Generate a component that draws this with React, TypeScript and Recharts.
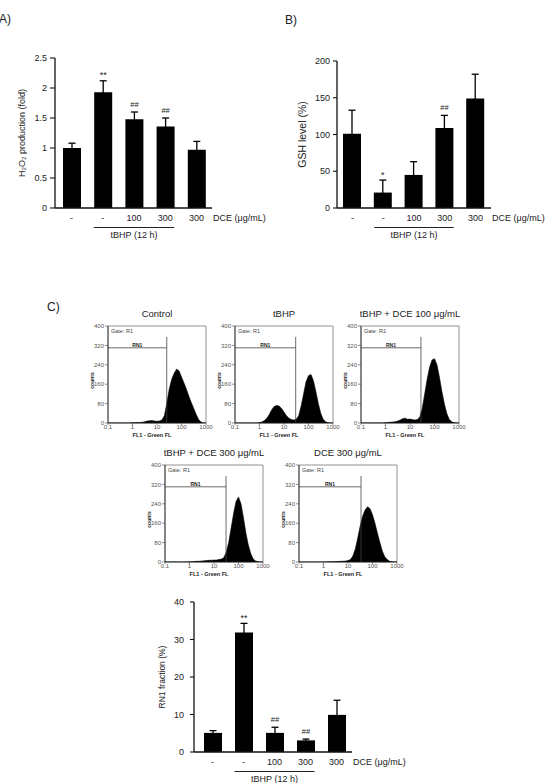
import React from "react";
import {
  BarChart,
  Bar,
  XAxis,
  YAxis,
  ErrorBar,
  LabelList,
  AreaChart,
  Area,
  ReferenceLine,
  ReferenceArea,
} from "recharts";

// treatment categories (same for the three bar panels)
const TREATMENTS = ["-", "-", "100", "300", "300"];

// A) H2O2 production (fold)
const H2O2_FOLD = [1.0, 1.93, 1.48, 1.36, 0.97];
const H2O2_ERR = [0.08, 0.19, 0.12, 0.14, 0.14];
const H2O2_SIG = ["", "**", "##", "##", ""];
const H2O2_TICKS = [0, 0.5, 1, 1.5, 2, 2.5];

// B) GSH level (%)
const GSH_LEVEL = [101, 21, 45, 109, 149];
const GSH_ERR = [32, 17, 18, 17, 33];
const GSH_SIG = ["", "*", "", "##", ""];
const GSH_TICKS = [0, 50, 100, 150, 200];

// C) RN1 fraction (%)
const RN1_FRACTION = [5.1, 31.9, 5.1, 3.1, 9.9];
const RN1_ERR = [0.6, 2.4, 1.5, 0.35, 3.9];
const RN1_SIG = ["", "**", "##", "##", ""];
const RN1_TICKS = [0, 10, 20, 30, 40];

// flow cytometry histograms (FL1 on log scale, counts)
const FL_BINS = [
  0.1, 0.126, 0.158, 0.2, 0.251, 0.316, 0.398, 0.501, 0.631, 0.794,
  1, 1.26, 1.58, 2, 2.51, 3.16, 3.98, 5.01, 6.31, 7.94,
  10, 12.6, 15.8, 20, 25.1, 31.6, 39.8, 50.1, 63.1, 79.4,
  100, 126, 158, 200, 251, 316, 398, 501, 631, 794, 1000,
];
const FL_TICKS = [0.1, 1, 10, 100, 1000];
const COUNT_TICKS = [0, 80, 160, 240, 320, 400];

const HIST_TITLES = ["Control", "tBHP", "tBHP + DCE 100 μg/mL", "tBHP + DCE 300 μg/mL", "DCE 300 μg/mL"];
const HIST_CONTROL = [
  0, 0, 0, 0, 0, 0, 0, 0, 0, 0,
  1, 1, 2, 2, 3, 5, 8, 9, 10, 8,
  7, 8, 12, 30, 80, 140, 180, 205, 222, 215,
  190, 165, 140, 110, 85, 60, 35, 14, 4, 0, 0,
];
const HIST_TBHP = [
  0, 0, 0, 0, 0, 0, 0, 0, 0, 0,
  2, 4, 10, 20, 35, 55, 68, 72, 70, 60,
  45, 30, 20, 14, 12, 15, 30, 70, 120, 170,
  195, 200, 175, 130, 80, 40, 15, 5, 1, 0, 0,
];
const HIST_TBHP_DCE100 = [
  0, 0, 0, 0, 0, 0, 0, 0, 0, 0,
  1, 2, 3, 4, 5, 8, 12, 18, 20, 15,
  16, 14, 12, 14, 25, 60, 120, 180, 230, 260,
  265, 240, 190, 130, 80, 40, 15, 5, 1, 0, 0,
];
const HIST_TBHP_DCE300 = [
  0, 0, 0, 0, 0, 0, 0, 0, 0, 0,
  1, 1, 2, 3, 3, 4, 5, 6, 7, 7,
  8, 8, 10, 12, 18, 40, 80, 140, 200, 250,
  268, 240, 185, 120, 70, 35, 12, 4, 1, 0, 0,
];
const HIST_DCE300 = [
  0, 0, 0, 0, 0, 0, 0, 0, 0, 0,
  0, 0, 1, 1, 1, 2, 2, 3, 3, 4,
  6, 10, 25, 55, 100, 150, 190, 215, 228, 220,
  195, 160, 120, 80, 45, 22, 10, 3, 1, 0, 0,
];
const HIST_COUNTS = [HIST_CONTROL, HIST_TBHP, HIST_TBHP_DCE100, HIST_TBHP_DCE300, HIST_DCE300];
// RN1 gate boundary (FL1) and marker heights (counts)
const RN1_GATE = [25, 30, 28, 31, 34];
const RN1_BAR_COUNT = 310;
const RN1_GATE_TOP = 355;

// layout of the histogram panels (page px)
const HIST_POS = [
  { left: 80, top: 322 },
  { left: 207, top: 322 },
  { left: 333, top: 322 },
  { left: 137, top: 461 },
  { left: 271, top: 461 },
];

const FONT = '"Liberation Sans", Arial, Helvetica, sans-serif';
const INK = "#222";

// rotated axis title, placed inside the axis area
const VLabel = ({ viewBox, text, dx, dy = 0, size, bold }: any) => {
  const cx = viewBox.x + dx;
  const cy = viewBox.y + viewBox.height / 2 + dy;
  return (
    <text
      x={cx}
      y={cy}
      transform={`rotate(-90 ${cx} ${cy})`}
      textAnchor="middle"
      dominantBaseline="central"
      fontSize={size}
      fontWeight={bold ? 700 : 400}
      fill={INK}
    >
      {text}
    </text>
  );
};

const HLabel = ({ viewBox, text, dy, size, bold, shift = 0 }: any) => (
  <text
    x={viewBox.x + viewBox.width / 2 + shift}
    y={viewBox.y + dy}
    textAnchor="middle"
    fontSize={size}
    fontWeight={bold ? 700 : 400}
    fill={INK}
  >
    {text}
  </text>
);

// x tick: dose label, plus the DCE unit after the last one and the tBHP bracket under 2..4
const makeDoseTick = (band: number) => (props: any) => {
  const { x, y, payload, index } = props;
  return (
    <g>
      <text x={x} y={y + 7} dy="0.71em" textAnchor="middle" fontSize={9} fill={INK}>
        {payload.value}
      </text>
      {index === 4 && (
        <text x={x + band / 2 + 1} y={y + 7} dy="0.71em" textAnchor="start" fontSize={9} fill={INK}>
          DCE (μg/mL)
        </text>
      )}
      {index === 2 && (
        <g>
          <line x1={x - band - 9} x2={x + band + 9} y1={y + 19.5} y2={y + 19.5} stroke={INK} strokeWidth={1} />
          <text x={x} y={y + 24} dy="0.71em" textAnchor="middle" fontSize={9} fill={INK}>
            tBHP (12 h)
          </text>
        </g>
      )}
    </g>
  );
};

// significance marks above the error bar
const makeSigLabel = (values: number[], errs: number[]) => (props: any) => {
  const vb = props.viewBox || {};
  const x = props.x ?? vb.x;
  const y = props.y ?? vb.y;
  const w = props.width ?? vb.width;
  const h = props.height ?? vb.height;
  const i = props.index;
  const text = props.value;
  if (!text || i == null) return null;
  const pxPerUnit = h / values[i];
  const errTop = y - errs[i] * pxPerUnit;
  const isStar = String(text).startsWith("*");
  return (
    <text
      x={x + w / 2}
      y={isStar ? errTop - 2.5 : errTop - 5}
      textAnchor="middle"
      fontSize={isStar ? 9 : 7.5}
      fill={INK}
    >
      {text}
    </text>
  );
};

interface BarPanelProps {
  left: number;
  top: number;
  width: number;
  height: number;
  margin: { top: number; right: number; left: number; bottom: number };
  yWidth: number;
  values: number[];
  errs: number[];
  sig: string[];
  ticks: number[];
  band: number;
  padLeft: number;
  yLabel: string;
  yLabelSize: number;
  yLabelDx: number;
  tickSize: number;
  tickMargin: number;
}

function BarPanel(p: BarPanelProps) {
  const data = TREATMENTS.map((dose, i) => ({ dose, value: p.values[i], err: p.errs[i], sig: p.sig[i] }));
  const top = p.ticks[p.ticks.length - 1];
  return (
    <div style={{ position: "absolute", left: p.left, top: p.top }}>
      <BarChart width={p.width} height={p.height} data={data} margin={p.margin}>
        <XAxis
          dataKey="dose"
          interval={0}
          height={30}
          tickLine={false}
          tickSize={0}
          tickMargin={0}
          padding={{ left: p.padLeft, right: 0 }}
          axisLine={{ stroke: "#111", strokeWidth: 1.3 }}
          tick={makeDoseTick(p.band)}
        />
        <YAxis
          domain={[0, top]}
          ticks={p.ticks}
          width={p.yWidth}
          tickSize={p.tickSize}
          tickMargin={p.tickMargin}
          axisLine={{ stroke: "#111", strokeWidth: 1.3 }}
          tickLine={{ stroke: "#111", strokeWidth: 1.1 }}
          tick={{ fontSize: 9, fill: INK }}
          label={<VLabel text={p.yLabel} dx={p.yLabelDx} size={p.yLabelSize} />}
        />
        <Bar dataKey="value" fill="#000" barSize={18} isAnimationActive={false}>
          <ErrorBar dataKey="err" width={3.5} stroke="#000" strokeWidth={1.3} />
          <LabelList dataKey="sig" content={makeSigLabel(p.values, p.errs)} />
        </Bar>
      </BarChart>
    </div>
  );
}

function FlowHist({ left, top, counts, gate }: { left: number; top: number; counts: number[]; gate: number }) {
  const data = FL_BINS.map((fl, i) => ({ fl, count: counts[i] }));
  return (
    <div style={{ position: "absolute", left, top }}>
      <AreaChart width={136} height={125} data={data} margin={{ top: 4, right: 10, left: 0, bottom: 0 }}>
        <XAxis
          dataKey="fl"
          type="number"
          scale="log"
          domain={[0.1, 1000]}
          ticks={FL_TICKS}
          allowDataOverflow
          interval={0}
          height={24}
          tickSize={2}
          tickMargin={0}
          axisLine={{ stroke: "#222", strokeWidth: 0.8 }}
          tickLine={{ stroke: "#444", strokeWidth: 0.6 }}
          tick={{ fontSize: 6, fill: "#555" }}
          label={<HLabel text="FL1 - Green FL" dy={13.5} size={5.5} bold shift={-5} />}
        />
        <YAxis
          domain={[0, 400]}
          ticks={COUNT_TICKS}
          allowDataOverflow
          width={28}
          tickSize={3}
          tickMargin={1}
          axisLine={{ stroke: "#222", strokeWidth: 0.8 }}
          tickLine={{ stroke: "#444", strokeWidth: 0.6 }}
          tick={{ fontSize: 6, fill: "#555" }}
          label={<VLabel text="counts" dx={12} dy={6} size={5} bold />}
        />
        <ReferenceArea
          x1={0.1}
          x2={1000}
          y1={0}
          y2={400}
          fill="#fff"
          fillOpacity={0}
          stroke="#777"
          strokeWidth={0.8}
          ifOverflow="visible"
          label={{ value: "Gate: R1", position: "insideTopLeft", fontSize: 5.5, fill: "#444", offset: 3 }}
        />
        <Area
          type="linear"
          dataKey="count"
          stroke="#000"
          strokeWidth={0.6}
          fill="#000"
          fillOpacity={1}
          dot={false}
          isAnimationActive={false}
        />
        <ReferenceLine
          segment={[{ x: 0.1, y: RN1_BAR_COUNT }, { x: gate, y: RN1_BAR_COUNT }]}
          stroke="#444"
          strokeWidth={0.8}
          ifOverflow="visible"
          label={{ value: "RN1", position: "top", fontSize: 5, fontWeight: 700, fill: INK, offset: 1 }}
        />
        <ReferenceLine
          segment={[{ x: gate, y: 0 }, { x: gate, y: RN1_GATE_TOP }]}
          stroke="#444"
          strokeWidth={0.8}
          ifOverflow="visible"
        />
      </AreaChart>
    </div>
  );
}

const panelLetter = (text: string, left: number, top: number) => (
  <div style={{ position: "absolute", left, top, fontSize: 12, lineHeight: "14px" }}>{text}</div>
);

export default function App() {
  return (
    <div
      style={{
        position: "absolute",
        left: 0,
        top: 0,
        width: 557,
        height: 783,
        overflow: "hidden",
        background: "#fff",
        fontFamily: FONT,
        color: INK,
      }}
    >
      {panelLetter("A)", -1, 12)}
      {panelLetter("B)", 285, 13)}
      {panelLetter("C)", 47, 300)}

      <BarPanel
        left={0}
        top={40}
        width={280}
        height={230}
        margin={{ top: 18, right: 68, left: 0, bottom: 32 }}
        yWidth={55}
        values={H2O2_FOLD}
        errs={H2O2_ERR}
        sig={H2O2_SIG}
        ticks={H2O2_TICKS}
        band={31.2}
        padLeft={1}
        yLabel="H₂O₂ production (fold)"
        yLabelSize={9}
        yLabelDx={22}
        tickSize={5}
        tickMargin={3}
      />

      <BarPanel
        left={282}
        top={40}
        width={275}
        height={230}
        margin={{ top: 21, right: 66, left: 0, bottom: 32 }}
        yWidth={55}
        values={GSH_LEVEL}
        errs={GSH_ERR}
        sig={GSH_SIG}
        ticks={GSH_TICKS}
        band={30.8}
        padLeft={0}
        yLabel="GSH level (%)"
        yLabelSize={10.5}
        yLabelDx={20}
        tickSize={4}
        tickMargin={3}
      />

      {HIST_TITLES.map((title, i) => (
        <div
          key={title}
          style={{
            position: "absolute",
            left: HIST_POS[i].left + 28 + 49 - 70,
            top: HIST_POS[i].top - 14,
            width: 140,
            textAlign: "center",
            fontSize: 9.5,
            lineHeight: "12px",
          }}
        >
          {title}
        </div>
      ))}
      {HIST_COUNTS.map((counts, i) => (
        <FlowHist key={i} left={HIST_POS[i].left} top={HIST_POS[i].top} counts={counts} gate={RN1_GATE[i]} />
      ))}

      <BarPanel
        left={140}
        top={590}
        width={281}
        height={193}
        margin={{ top: 12, right: 69, left: 0, bottom: 1 }}
        yWidth={54}
        values={RN1_FRACTION}
        errs={RN1_ERR}
        sig={RN1_SIG}
        ticks={RN1_TICKS}
        band={31}
        padLeft={3}
        yLabel="RN1 fraction (%)"
        yLabelSize={8.5}
        yLabelDx={22}
        tickSize={4}
        tickMargin={6}
      />
    </div>
  );
}
